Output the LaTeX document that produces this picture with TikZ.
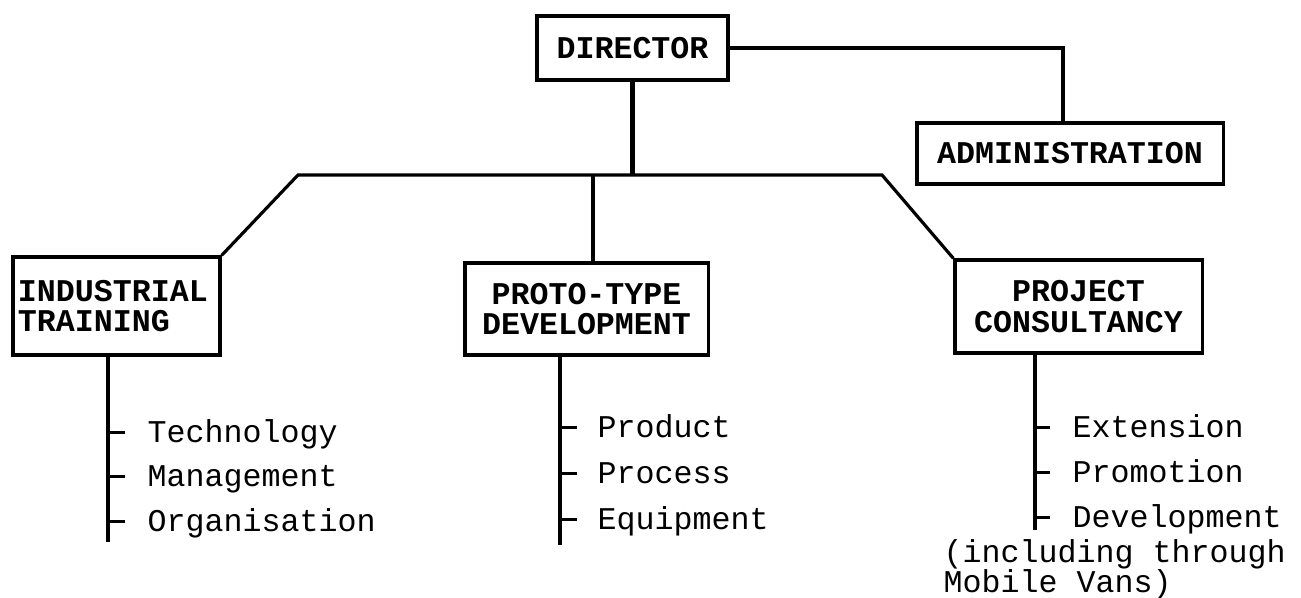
\documentclass[tikz,border=0pt]{standalone}
\usepackage{fontspec}
\usetikzlibrary{positioning,calc}
\newfontfamily\typer{Liberation Mono}

\begin{document}
\begin{tikzpicture}[x=0.01cm,y=-0.01cm,
  box/.style={draw,line width=0.9pt,inner sep=0pt,align=center,
    font=\typer\bfseries\fontsize{9}{8.6}\selectfont},
  item/.style={anchor=base west,inner sep=0pt,font=\typer\fontsize{9}{10}\selectfont},
  link/.style={line width=0.9pt},
  stem/.style={line width=1.2pt}]
\useasboundingbox (0,0) rectangle (1301,598);
% boxes
\node[box,minimum width=1.91cm,minimum height=0.64cm] (director) at (632.5,48) {DIRECTOR};
\node[box,minimum width=3.06cm,minimum height=0.61cm] (admin) at (1070,153.5) {ADMINISTRATION};
\node[box,minimum width=2.07cm,minimum height=0.98cm,text width=1.97cm,align=left] (industrial) at (116.5,306) {INDUSTRIAL\\TRAINING};
\node[box,minimum width=2.43cm,minimum height=0.92cm] (proto) at (586.5,309) {PROTO-TYPE\\DEVELOPMENT};
\node[box,minimum width=2.47cm,minimum height=0.93cm] (project) at (1078.5,306.5) {PROJECT\\CONSULTANCY};
% bar between the three sections
\coordinate (barL) at (298,175);
\coordinate (barR) at (882,175);
\draw[link] (director.east) -| ([xshift=-0.07cm]admin.north);
\draw[stem] (director.south) -- (director.south |- barL);
\draw[link] (industrial.north east) -- (barL) -- (barR) -- (project.north west);
\draw[stem] ([xshift=0.065cm]proto.north) -- ([xshift=0.065cm]proto.north |- barL);
% section items
\node[item] (tech) at (147,443) {Technology};
\node[item] (manage) at (147,487) {Management};
\node[item] (organ) at (147,532) {Organisation};
\node[item] (product) at (597,438) {Product};
\node[item] (process) at (597,484) {Process};
\node[item] (equip) at (597,530) {Equipment};
\node[item] (extension) at (1072,438) {Extension};
\node[item] (promotion) at (1072,483) {Promotion};
\node[item] (develop) at (1072,528) {Development};
\node[item] (note1) at (943,563) {(including through};
\node[item] (note2) at (943,593) {Mobile Vans)};
\coordinate (itEnd) at (108,542);
\coordinate (pdEnd) at (560,545);
\coordinate (pcEnd) at (1035,530);
\draw[stem] (industrial.south -| itEnd) -- (itEnd);
\draw[stem] (proto.south -| pdEnd) -- (pdEnd);
\draw[stem] (project.south -| pcEnd) -- (pcEnd);
\foreach \n in {tech,manage,organ}
  \draw[link] ([yshift=0.03cm]itEnd |- \n.mid west) -- ([xshift=-0.22cm,yshift=0.03cm]\n.mid west);
\foreach \n in {product,process,equip}
  \draw[link] ([yshift=0.03cm]pdEnd |- \n.mid west) -- ([xshift=-0.2cm,yshift=0.03cm]\n.mid west);
\foreach \n in {extension,promotion,develop}
  \draw[link] ([yshift=0.03cm]pcEnd |- \n.mid west) -- ([xshift=-0.22cm,yshift=0.03cm]\n.mid west);
\end{tikzpicture}
\end{document}
